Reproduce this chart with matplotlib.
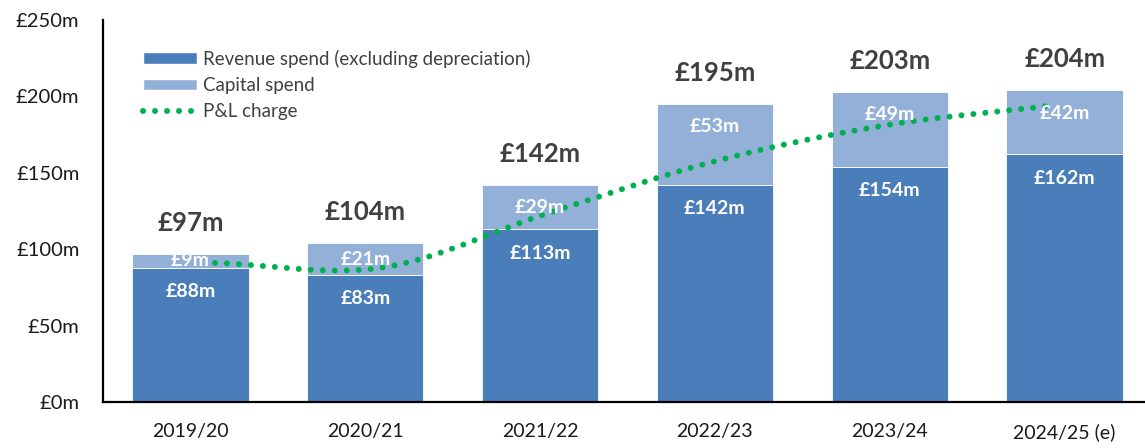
import numpy as np
import matplotlib
matplotlib.use('Agg')
import matplotlib.pyplot as plt
from matplotlib.patches import Patch
from matplotlib.lines import Line2D

years = ['2019/20', '2020/21', '2021/22', '2022/23', '2023/24', '2024/25 (e)']
revenue = [88, 83, 113, 142, 154, 162]
capital = [9, 21, 29, 53, 49, 42]
pl_charge = [91, 88, 124, 158, 181, 194]

REV_COL = '#4A7EBB'
CAP_COL = '#93B0D8'
PL_COL = '#00B050'
TXT = '#404040'

plt.rcParams['font.family'] = ['Lato', 'DejaVu Sans']


def catmull_rom(x, y, n=40):
    # smooth curve through the points, like Excel's "smoothed line"
    x = np.asarray(x, float)
    y = np.asarray(y, float)
    px = np.concatenate([[2 * x[0] - x[1]], x, [2 * x[-1] - x[-2]]])
    py = np.concatenate([[2 * y[0] - y[1]], y, [2 * y[-1] - y[-2]]])
    xs, ys = [], []
    t = np.linspace(0, 1, n)
    for i in range(1, len(px) - 2):
        for p, out in ((px, xs), (py, ys)):
            p0, p1, p2, p3 = p[i - 1], p[i], p[i + 1], p[i + 2]
            out.extend(0.5 * ((2 * p1) + (-p0 + p2) * t
                              + (2 * p0 - 5 * p1 + 4 * p2 - p3) * t ** 2
                              + (-p0 + 3 * p1 - 3 * p2 + p3) * t ** 3))
    return np.array(xs), np.array(ys)


fig = plt.figure(figsize=(11.45, 4.48), dpi=100)
ax = fig.add_axes([0.09, 0.1027, 0.91, 0.8527])

x = np.arange(len(years))
totals = np.array(revenue) + np.array(capital)

ax.bar(x, revenue, width=0.665, color=REV_COL, edgecolor='white', linewidth=0.6, zorder=2)
ax.bar(x, capital, width=0.665, bottom=revenue, color=CAP_COL, edgecolor='white', linewidth=0.6, zorder=2)

# P&L line sits slightly offset from the category centres in the original
line_x = 0.14 + x * 0.958
sx, sy = catmull_rom(line_x, pl_charge)
ax.plot(sx, sy, color=PL_COL, linewidth=4.3, linestyle=(0, (0.01, 2.0)),
        dash_capstyle='round', zorder=3)

for i in range(len(years)):
    ax.text(x[i], revenue[i] - 15.5, f'£{revenue[i]}m', ha='center', va='center',
            color='white', fontsize=14, fontweight='bold', zorder=4)
    cap_y = max(totals[i] - 15, revenue[i] + capital[i] / 2)
    ax.text(x[i], cap_y, f'£{capital[i]}m', ha='center', va='center',
            color='white', fontsize=14, fontweight='bold', zorder=4)
    ax.annotate(f'£{totals[i]}m', (x[i], totals[i]), xytext=(0, 22.5),
                textcoords='offset points', ha='center', va='center',
                color=TXT, fontsize=18.5, fontweight='bold')

ax.set_xlim(-0.5, 5.46)
ax.set_ylim(0, 250)
ax.set_yticks(range(0, 251, 50))
ax.set_yticklabels([f'£{v}m' for v in range(0, 251, 50)])
ax.set_xticks(x)
ax.set_xticklabels(years)
ax.tick_params(axis='y', length=0, pad=17, labelsize=14.5, labelcolor='#1a1a1a')
ax.tick_params(axis='x', length=0, pad=15, labelsize=14, labelcolor='#1a1a1a')
for s in ['top', 'right']:
    ax.spines[s].set_visible(False)
for s in ['left', 'bottom']:
    ax.spines[s].set_linewidth(1.6)
    ax.spines[s].set_color('black')

handles = [
    Patch(facecolor=REV_COL, edgecolor='white'),
    Patch(facecolor=CAP_COL, edgecolor='white'),
    Line2D([0], [0], color=PL_COL, linewidth=4.3, linestyle=(0, (0.01, 2.0)),
           dash_capstyle='round'),
]
labels = ['Revenue spend (excluding depreciation)', 'Capital spend', 'P&L charge']
leg = ax.legend(handles, labels, loc='upper left', bbox_to_anchor=(0.031, 0.942),
                frameon=False, fontsize=13.5, handlelength=2.9, handleheight=0.55,
                handletextpad=0.3, labelspacing=0.5, borderaxespad=0)
for t in leg.get_texts():
    t.set_color(TXT)

fig.savefig('out.png', dpi=100)
